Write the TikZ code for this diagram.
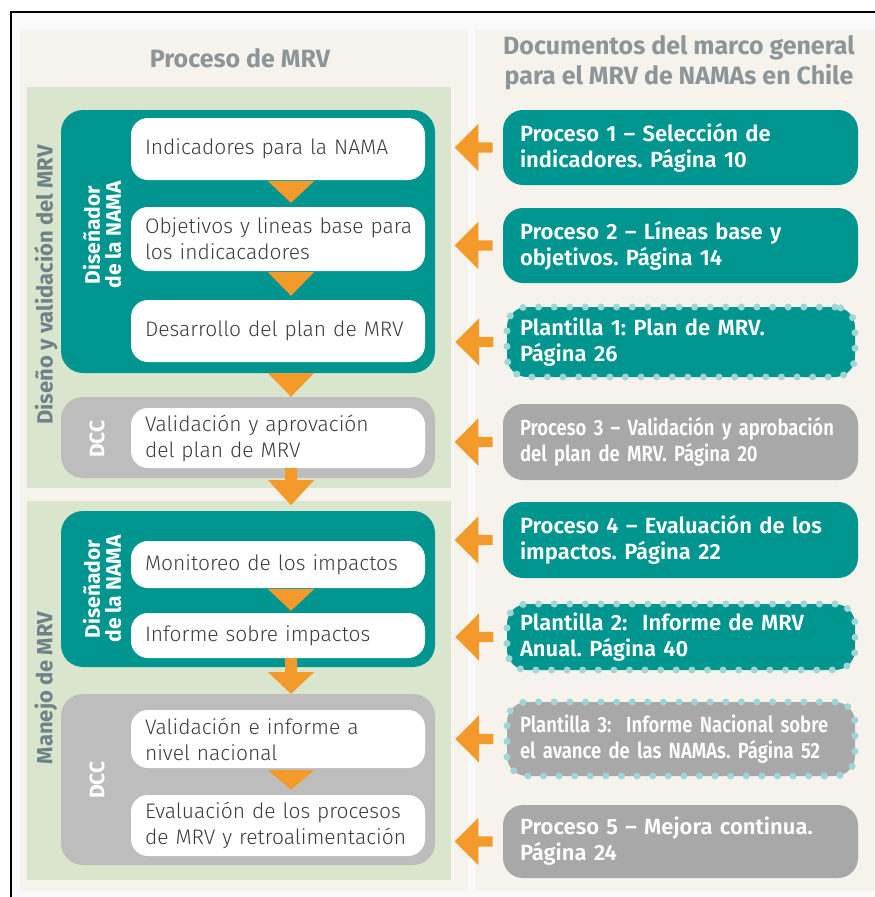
\documentclass[tikz,border=0pt]{standalone}
\usepackage{fontspec}
\setmainfont{Fira Sans}
\newfontfamily\lightfont{Fira Sans Light}
\newfontfamily\semifont{Fira Sans SemiBold}
\newfontfamily\narrowfont{Fira Sans SemiBold}[FakeStretch=0.84]
\usetikzlibrary{positioning,shapes.arrows,calc}
\definecolor{nama}    {HTML}{00968F}
\definecolor{dccgrey} {HTML}{BDBDBD}
\definecolor{docgrey} {HTML}{A8A8A8}
\definecolor{sheet}   {HTML}{F6F3EC}
\definecolor{leaf}    {HTML}{D9E5CD}
\definecolor{tang}    {HTML}{F39A2B}
\definecolor{pearl}   {HTML}{9ED6D8}
\definecolor{ink}     {HTML}{3C3C3B}
\definecolor{slate}   {HTML}{8C9598}
\definecolor{steel}   {HTML}{6E8388}
\definecolor{paper}   {HTML}{FAFAFA}
\frenchspacing

\begin{document}
\begin{tikzpicture}[x=1pt,y=-1pt,
  stage/.style={fill=#1,rounded corners=22pt,inner sep=0pt,minimum width=374pt},
  wbox/.style={fill=white,rounded corners=17pt,text width=266pt,inner xsep=14pt,
               inner ysep=0pt,align=left,text=ink,minimum height=#1,
               font=\lightfont\fontsize{21}{26}\selectfont},
  doc/.style={fill=#1,rounded corners=20pt,text width=321pt,inner xsep=17pt,
              inner ysep=0pt,align=left,text=white,
              font=\semifont\fontsize{22}{26}\selectfont},
  tmpl/.style={doc=#1,text width=322pt,inner xsep=13pt,draw=pearl,line width=7pt,
               dash pattern=on 0pt off 15.6pt,line cap=round},
  narrow/.style={font=\narrowfont\fontsize{22}{26}\selectfont},
  who/.style={rotate=90,align=center,text=white,
              font=\bfseries\fontsize{21}{21}\selectfont},
  phase/.style={rotate=90,text=steel,font=\bfseries\fontsize{22}{24}\selectfont},
  head/.style={text=slate,align=center,font=\bfseries\fontsize{25}{30}\selectfont},
  larr/.style={single arrow,shape border rotate=180,fill=tang,inner sep=5pt,
               minimum height=38pt,single arrow head extend=18.5pt}]
  \useasboundingbox (0,0) rectangle (875,897);
  % backgrounds
  \fill[paper] (11,12) rectangle (875,897);
  \fill[sheet] (20,30) rectangle (468,891);
  \fill[sheet] (475,30) rectangle (875,891);
  \fill[leaf] (27,87) rectangle (451,488);
  \fill[leaf] (27,501) rectangle (451,880);
  \draw[line width=1.3pt] (11,897) -- (11,12) -- (875,12);

  \node[head] (hl) at (240,58) {Proceso de MRV};
  \node[head] (hr) at (679,63) {Documentos del marco general\\para el MRV de NAMAs en Chile};
  \node[phase] (ph1) at (46,285) {Diseño y validación del MRV};
  \node[phase] (ph2) at (46,688) {Manejo de MRV};

  % left column
  \node[stage=nama,minimum height=263pt] (dis1) at (248,241.5) {};
  \node[stage=dccgrey,minimum height=81pt] (dcc1) at (248,437.5) {};
  \node[stage=nama,minimum height=156pt] (dis2) at (248,589) {};
  \node[stage=dccgrey,minimum height=171pt] (dcc2) at (248,779.5) {};
  \node[who] (r1) at (102,235) {Diseñador\\de la NAMA};
  \node[who] (r2) at (97,439) {DCC};
  \node[who] (r3) at (102,589) {Diseñador\\de la NAMA};
  \node[who] (r4) at (97,780) {DCC};

  \node[wbox=62pt] (w1) at (278,149) {Indicadores para la NAMA};
  \node[wbox=64pt] (w2) at (278,239) {\mbox{Objetivos y lineas base para}\\los indicacadores};
  \node[wbox=62pt] (w3) at (278,331) {Desarrollo del plan de MRV};
  \node[wbox=60pt] (w4) at (278,438) {Validación y aprovación\\del plan de MRV};
  \node[wbox=47pt] (w5) at (278,564.5) {Monitoreo de los impactos};
  \node[wbox=45pt] (w6) at (278,635.5) {Informe sobre impactos};
  \node[wbox=58pt] (w7) at (278,739) {Validación e informe a\\nivel nacional};
  \node[wbox=61pt] (w8) at (278,825.5) {Evaluación de los procesos\\\mbox{de MRV y retroalimentación}};

  \coordinate (ax) at (291,0);
  \fill[tang] ($(ax|-w1.south)+(-23,1)$) -- ($(ax|-w1.south)+(23,1)$) -- ($(ax|-w2.north)+(0,-4)$) -- cycle;
  \fill[tang] ($(ax|-w2.south)+(-23,1)$) -- ($(ax|-w2.south)+(23,1)$) -- ($(ax|-w3.north)+(0,-4)$) -- cycle;
  \fill[tang] ($(ax|-dis1.south)+(-23,0)$) -- ($(ax|-dis1.south)+(23,0)$) -- (ax|-dcc1.north) -- cycle;
  \fill[tang] ($(ax|-w4.south)+(-6,0)$) -- ($(ax|-w4.south)+(6,0)$) -- ($(ax|-w4.south)+(6,12)$)
    -- ($(ax|-w4.south)+(23,12)$) -- ($(ax|-w4.south)+(0,37)$) -- ($(ax|-w4.south)+(-23,12)$)
    -- ($(ax|-w4.south)+(-6,12)$) -- cycle;
  \fill[tang] ($(ax|-w5.south)+(-23,1)$) -- ($(ax|-w5.south)+(23,1)$) -- ($(ax|-w6.north)+(0,-2)$) -- cycle;
  \fill[tang] ($(ax|-w6.south)+(-6,0)$) -- ($(ax|-w6.south)+(6,0)$) -- ($(ax|-w6.south)+(6,14)$)
    -- ($(ax|-w6.south)+(23,14)$) -- (ax|-dcc2.north) -- ($(ax|-w6.south)+(-23,14)$)
    -- ($(ax|-w6.south)+(-6,14)$) -- cycle;
  \fill[tang] ($(ax|-w7.south)+(-23,2)$) -- ($(ax|-w7.south)+(23,2)$) -- ($(ax|-w8.north)+(0,-5)$) -- cycle;

  % right column
  \node[doc=nama,minimum height=75pt] (p1) at (680.5,147.5) {Proceso 1 – Selección de\\indicadores. Página 10};
  \node[doc=nama,minimum height=75pt] (p2) at (680.5,245.5) {Proceso 2 – Líneas base y\\objetivos. Página 14};
  \node[tmpl=nama,minimum height=70pt] (t1) at (681,342) {Plantilla 1: Plan de MRV.\\Página 26};
  \node[doc=docgrey,narrow,minimum height=76pt] (p3) at (680.5,442) {\mbox{Proceso 3 – Validación y aprobación}\\del plan de MRV. Página 20};
  \node[doc=nama,minimum height=76pt] (p4) at (680.5,540) {Proceso 4 – Evaluación de los\\impactos. Página 22};
  \node[tmpl=nama,minimum height=66pt] (t2) at (681,637) {Plantilla 2:~ Informe de MRV\\Anual. Página 40};
  \node[tmpl=docgrey,narrow,minimum height=74pt] (t3) at (681,739) {\mbox{Plantilla 3:~ Informe Nacional sobre}\\\mbox{el avance de las NAMAs. Página 52}};
  \node[doc=docgrey,minimum height=73pt] (p5) at (680.5,841.5) {Proceso 5 – Mejora continua.\\Página 24};

  \foreach \d in {p1,p2,t1,p3,p4,t2,t3,p5}
    \node[larr,left=10pt of \d] (a\d) {};
\end{tikzpicture}
\end{document}
